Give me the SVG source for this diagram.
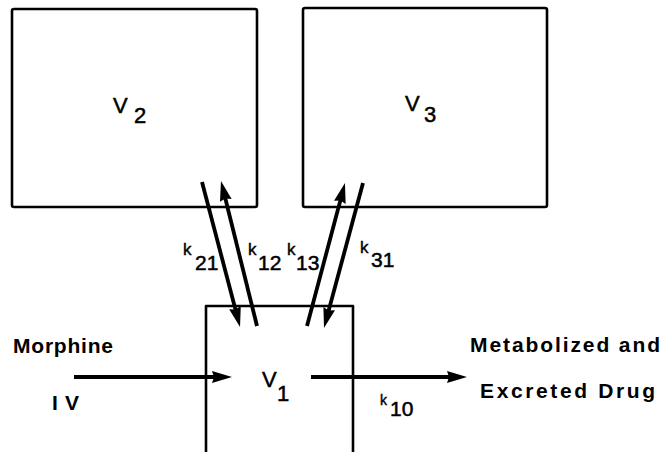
<svg xmlns="http://www.w3.org/2000/svg" width="663" height="452" viewBox="0 0 663 452">
<style>
  .box { fill: none; stroke: #000; stroke-width: 2.6; stroke-linejoin: round; }
  .conn { stroke: #000; stroke-width: 3.8; fill: none; }
  .lbl { font-family: "Liberation Sans", Arial, sans-serif; font-size: 22px; fill: #000; stroke: #000; stroke-width: 0.5; }
  .big { font-family: "Liberation Sans", Arial, sans-serif; font-size: 21px; font-weight: bold; fill: #000; }
  .k { font-family: "Liberation Sans", Arial, sans-serif; font-size: 17px; fill: #000; stroke: #000; stroke-width: 0.4; }
  .sub { font-family: "Liberation Sans", Arial, sans-serif; font-size: 21px; fill: #000; stroke: #000; stroke-width: 0.5; }
</style>
<defs>
  <marker id="ah" markerUnits="userSpaceOnUse" markerWidth="21" markerHeight="14" refX="10" refY="7" orient="auto" overflow="visible">
    <path d="M0,1 L20,7 L0,13 L2,7 Z" fill="#000"/>
  </marker>
</defs>
<rect width="663" height="452" fill="#fff"/>

<g id="node-V2">
  <rect class="box" x="12" y="9" width="245" height="198" rx="2"/>
  <text class="lbl"><tspan x="113" y="113">V</tspan><tspan x="134" y="123">2</tspan></text>
</g>

<g id="node-V3">
  <rect class="box" x="303" y="8" width="244" height="199" rx="2"/>
  <text class="lbl"><tspan x="405" y="111">V</tspan><tspan x="424" y="122">3</tspan></text>
</g>

<g id="node-V1">
  <path class="box" d="M206,452 V306 H353 V452"/>
  <text class="lbl"><tspan x="262" y="387">V</tspan><tspan x="277" y="401">1</tspan></text>
</g>

<g id="node-input">
  <text class="big" x="13" y="353" textLength="100" lengthAdjust="spacing">Morphine</text>
  <text class="big" x="52" y="410" textLength="27" lengthAdjust="spacing">IV</text>
</g>

<g id="node-output">
  <text class="big" x="470" y="352" textLength="190" lengthAdjust="spacing">Metabolized and</text>
  <text class="big" x="480" y="398" textLength="175" lengthAdjust="spacing">Excreted Drug</text>
</g>

<g id="connectors">
  <line class="conn" x1="202" y1="182" x2="237.5" y2="317.3" marker-end="url(#ah)"/>
  <line class="conn" x1="257" y1="326" x2="223.4" y2="190.7" marker-end="url(#ah)"/>
  <line class="conn" x1="307" y1="326" x2="342.4" y2="192.7" marker-end="url(#ah)"/>
  <line class="conn" x1="363" y1="183" x2="326.6" y2="318.3" marker-end="url(#ah)"/>
  <line class="conn" x1="74" y1="377" x2="222" y2="377" marker-end="url(#ah)"/>
  <line class="conn" x1="311" y1="377" x2="457" y2="377" marker-end="url(#ah)"/>
</g>

<g id="connector-labels">
  <text><tspan class="k" x="183" y="255">k</tspan><tspan class="sub" x="195" y="270">21</tspan></text>
  <text><tspan class="k" x="248" y="255">k</tspan><tspan class="sub" x="258" y="270">12</tspan></text>
  <text><tspan class="k" x="287" y="255">k</tspan><tspan class="sub" x="296" y="270">13</tspan></text>
  <text><tspan class="k" x="360" y="253">k</tspan><tspan class="sub" x="371" y="267">31</tspan></text>
  <text><tspan class="k" x="380" y="405" style="font-size:14px">k</tspan><tspan class="sub" x="390" y="416">10</tspan></text>
</g>
</svg>
